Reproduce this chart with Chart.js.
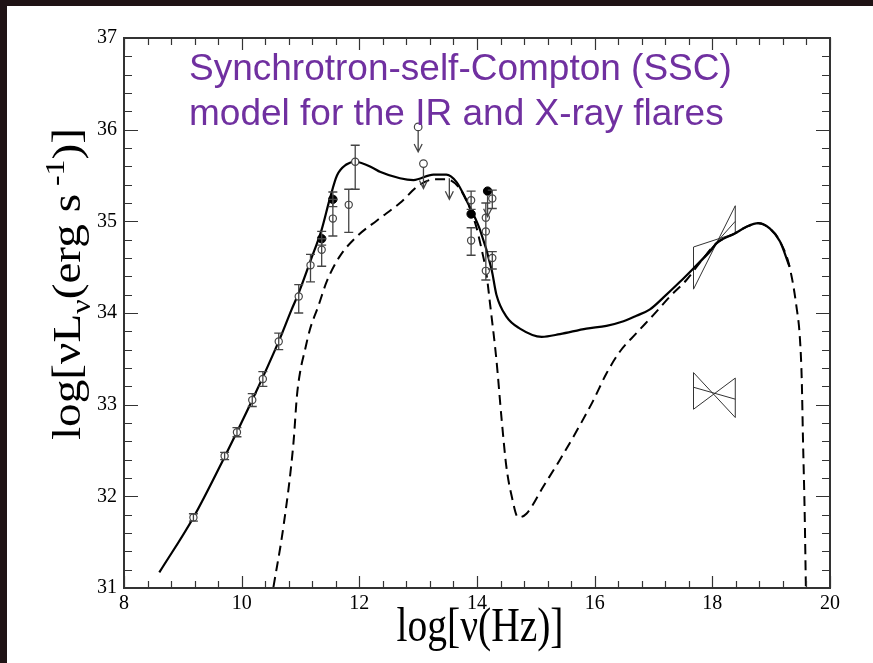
<!DOCTYPE html>
<html>
<head>
<meta charset="utf-8">
<script src="https://cdn.jsdelivr.net/npm/chart.js@4.4.0/dist/chart.umd.min.js"></script>
<style>
  html, body { margin: 0; padding: 0; background: #fff; }
</style>
</head>
<body>
<canvas id="sed" width="873" height="663"></canvas>
<script>
// SSC model: total emission (solid) and flare component (dashed)
const totalX = [8.60, 9.18, 9.71, 10.18, 10.63, 10.85, 10.97, 11.17, 11.36, 11.50, 11.62, 11.78, 11.93,
  12.24, 12.35, 12.69, 12.92, 13.26, 13.48, 13.65, 13.82, 14.05, 14.25, 14.33, 14.50, 14.73, 15.10,
  15.41, 15.86, 16.20, 16.49, 16.71, 16.94, 17.17, 17.45, 17.73, 17.96, 18.07, 18.39, 18.58, 18.78,
  18.98, 19.15, 19.31];
const totalY = [31.17, 31.77, 32.43, 33.05, 33.69, 34.04, 34.22, 34.57, 34.91, 35.25, 35.50, 35.62, 35.65,
  35.58, 35.54, 35.47, 35.45, 35.51, 35.51, 35.43, 35.23, 34.91, 34.47, 34.20, 33.96, 33.83, 33.74,
  33.77, 33.83, 33.86, 33.91, 33.97, 34.04, 34.17, 34.34, 34.52, 34.67, 34.76, 34.87, 34.94, 34.98,
  34.92, 34.78, 34.51];

const flareX = [10.54, 10.71, 10.88, 10.94, 11.00, 11.07, 11.16, 11.30, 11.45, 11.67, 11.95, 12.30, 12.69, 13.03,
  13.29, 13.48, 13.68, 13.82, 13.97, 14.08, 14.16, 14.22, 14.33, 14.42, 14.50, 14.59, 14.70, 14.84,
  15.13, 15.41, 15.70, 15.98, 16.20, 16.43, 16.71, 17.00, 17.28, 17.56, 17.85, 18.07, 18.39, 18.58,
  18.78, 18.98, 19.15, 19.31, 19.43, 19.49, 19.52, 19.54, 19.57, 19.59];
const flareY = [31.01, 31.67, 32.58, 33.10, 33.38, 33.58, 33.82, 34.07, 34.35, 34.62, 34.83, 35.01, 35.20, 35.40,
  35.46, 35.46, 35.38, 35.23, 34.98, 34.69, 34.43, 34.11, 33.49, 32.83, 32.32, 32.00, 31.77, 31.81,
  32.11, 32.40, 32.72, 33.05, 33.34, 33.58, 33.78, 33.98, 34.18, 34.36, 34.60, 34.76, 34.87, 34.94,
  34.98, 34.92, 34.78, 34.51, 34.07, 33.71, 33.27, 32.65, 31.80, 31.00];

// measurements (open circles) with error bars
const obsX  = [9.18, 9.71, 9.92, 10.18, 10.36, 10.63, 10.97, 11.17, 11.36, 11.55, 11.82, 11.93,
  13.90, 13.90, 14.15, 14.15, 14.15, 14.26, 14.26];
const obsY  = [31.77, 32.44, 32.70, 33.05, 33.28, 33.69, 34.18, 34.52, 34.69, 35.03, 35.18, 35.65,
  35.23, 34.79, 35.04, 34.89, 34.46, 35.25, 34.60];
const obsLo = [31.73, 32.40, 32.65, 32.98, 33.20, 33.60, 34.00, 34.34, 34.51, 34.84, 34.88, 35.35,
  35.13, 34.63, 35.04, 34.36, 34.46, 35.14, 34.48];
const obsHi = [31.81, 32.48, 32.75, 33.12, 33.36, 33.78, 34.31, 34.64, 34.89, 35.32, 35.35, 35.83,
  35.33, 34.93, 35.04, 35.20, 34.46, 35.34, 34.67];

// flare detections (filled circles)
const detX  = [11.36, 11.55, 13.90, 14.18];
const detY  = [34.81, 35.24, 35.08, 35.33];
const detLo = [34.74, 35.16, 35.08, 35.33];

// upper limits (arrows), the first two with an open circle
const ulX = [13.00, 13.09, 13.53, 14.18];
const ulY = [36.03, 35.63, 35.47, 35.28];
const ulCircle = [true, true, false, false];

// X-ray bow ties: outline (left top, right low, right top, left low) and best fit
const bowX = [17.68, 18.39, 18.39, 17.68, 17.68];
const bowHighY = [34.72, 34.87, 35.17, 34.26, 34.72];
const bowHighFit = [34.49, 35.00];
const bowLowY = [33.35, 32.86, 33.29, 32.95, 33.35];
const bowLowFit = [33.19, 33.06];

// axes
const xMin = 8, xMax = 20, xStep = 2, xMinor = 0.4;
const yMin = 31, yMax = 37, yStep = 1, yMinor = 0.2;

const pts = (xs, ys) => xs.map((x, i) => ({ x: x, y: ys[i] }));

const serif = '"Liberation Serif", "Times New Roman", serif';
const axisColor = '#333';

const backdrop = {
  id: 'backdrop',
  beforeDraw(chart) {
    const ctx = chart.ctx;
    ctx.save();
    ctx.fillStyle = '#fff';
    ctx.fillRect(0, 0, chart.width, chart.height);
    ctx.fillStyle = '#1f1315';
    ctx.fillRect(0, 0, chart.width, 6);
    ctx.fillRect(0, 0, 7, chart.height);
    ctx.restore();
  }
};

// error bars, caps and upper-limit arrows
const errorBars = {
  id: 'errorBars',
  afterDatasetsDraw(chart) {
    const ctx = chart.ctx, xs = chart.scales.x, ys = chart.scales.y;
    ctx.save();
    ctx.strokeStyle = '#444';
    ctx.lineWidth = 1.3;
    const bar = (x, lo, hi) => {
      const px = xs.getPixelForValue(x);
      const p1 = ys.getPixelForValue(lo), p2 = ys.getPixelForValue(hi);
      if (Math.abs(p1 - p2) < 1) return;
      ctx.beginPath();
      ctx.moveTo(px, p1); ctx.lineTo(px, p2);
      ctx.moveTo(px - 4.5, p1); ctx.lineTo(px + 4.5, p1);
      ctx.moveTo(px - 4.5, p2); ctx.lineTo(px + 4.5, p2);
      ctx.stroke();
    };
    obsX.forEach((x, i) => bar(x, obsLo[i], obsHi[i]));
    detX.forEach((x, i) => bar(x, detLo[i], detY[i]));

    ulX.forEach((x, i) => {
      const px = xs.getPixelForValue(x);
      const py = ys.getPixelForValue(ulY[i]) + (ulCircle[i] ? 4 : 0);
      const tip = py + 21;
      ctx.beginPath();
      ctx.moveTo(px, py); ctx.lineTo(px, tip);
      ctx.moveTo(px - 4, tip - 8); ctx.lineTo(px, tip); ctx.lineTo(px + 4, tip - 8);
      ctx.stroke();
    });
    ctx.restore();
  }
};

// frame, inward ticks on all four sides, and text
const frame = {
  id: 'frame',
  afterDraw(chart) {
    const ctx = chart.ctx, a = chart.chartArea, xs = chart.scales.x, ys = chart.scales.y;
    ctx.save();
    ctx.strokeStyle = axisColor;
    ctx.lineWidth = 1.2;
    ctx.beginPath();
    for (let v = xMin; v <= xMax + 1e-9; v += xMinor) {
      const major = Math.abs(v / xStep - Math.round(v / xStep)) < 1e-6;
      const len = major ? 12 : 7;
      const px = Math.round(xs.getPixelForValue(v)) + 0.5;
      ctx.moveTo(px, a.bottom); ctx.lineTo(px, a.bottom - len);
      ctx.moveTo(px, a.top); ctx.lineTo(px, a.top + len);
    }
    for (let v = yMin; v <= yMax + 1e-9; v += yMinor) {
      const major = Math.abs(v / yStep - Math.round(v / yStep)) < 1e-6;
      const len = major ? 14 : 8;
      const py = Math.round(ys.getPixelForValue(v)) + 0.5;
      ctx.moveTo(a.left, py); ctx.lineTo(a.left + len, py);
      ctx.moveTo(a.right, py); ctx.lineTo(a.right - len, py);
    }
    ctx.stroke();
    ctx.lineWidth = 2;
    ctx.strokeRect(a.left, a.top, a.right - a.left, a.bottom - a.top);

    // headline
    ctx.fillStyle = '#7030a0';
    ctx.font = '37px "Liberation Sans", Arial, sans-serif';
    ctx.textAlign = 'left';
    ctx.textBaseline = 'alphabetic';
    ctx.fillText('Synchrotron-self-Compton (SSC)', 189, 80);
    ctx.fillText('model for the IR and X-ray flares', 189, 125);

    // x title
    ctx.fillStyle = '#000';
    ctx.font = '48px ' + serif;
    const xt = 'log[\u03bd(Hz)]';
    const xw = ctx.measureText(xt).width;
    ctx.save();
    ctx.translate(480, 641);
    ctx.scale(167 / xw, 1);
    ctx.textAlign = 'center';
    ctx.fillText(xt, 0, 0);
    ctx.restore();

    // y title, rotated, with sub- and superscript
    const big = '40px ' + serif, small = '27px ' + serif;
    const parts = [
      { t: 'log[\u03bdL', f: big, dy: 0 },
      { t: '\u03bd', f: small, dy: 10 },
      { t: '(erg s', f: big, dy: 0 },
      { t: ' -1', f: small, dy: -16 },
      { t: ')]', f: big, dy: 0 }
    ];
    let total = 0;
    parts.forEach(p => { ctx.font = p.f; p.w = ctx.measureText(p.t).width; total += p.w; });
    ctx.save();
    ctx.translate(80, 440);
    ctx.rotate(-Math.PI / 2);
    ctx.scale(312 / total, 1);
    ctx.textAlign = 'left';
    let cx = 0;
    parts.forEach(p => { ctx.font = p.f; ctx.fillText(p.t, cx, p.dy); cx += p.w; });
    ctx.restore();
    ctx.restore();
  }
};

const outline = { pointRadius: 0, showLine: true, fill: false, borderWidth: 1, borderColor: '#333', order: 4 };
const curve = { pointRadius: 0, showLine: true, fill: false, borderColor: '#000', cubicInterpolationMode: 'monotone' };

new Chart(document.getElementById('sed'), {
  type: 'scatter',
  data: {
    datasets: [
      { label: 'detections', data: pts(detX, detY), pointRadius: 4.2, pointBackgroundColor: '#000',
        pointBorderColor: '#000', order: 0 },
      { label: 'measurements', data: pts(obsX, obsY), pointRadius: 3.6, pointBackgroundColor: '#fff',
        pointBorderColor: '#444', pointBorderWidth: 1.2, order: 1 },
      { label: 'upper limits', data: pts(ulX.filter((x, i) => ulCircle[i]), ulY.filter((y, i) => ulCircle[i])),
        pointRadius: 3.8, pointBackgroundColor: '#fff', pointBorderColor: '#444', pointBorderWidth: 1.2, order: 1 },
      Object.assign({ label: 'total', data: pts(totalX, totalY), borderWidth: 2.2, order: 2 }, curve),
      Object.assign({ label: 'flare', data: pts(flareX, flareY), borderWidth: 2, borderDash: [10, 6], order: 3 }, curve),
      Object.assign({ label: 'bow tie high', data: pts(bowX, bowHighY) }, outline),
      Object.assign({ label: 'bow tie high fit', data: pts(bowX.slice(0, 2), bowHighFit) }, outline),
      Object.assign({ label: 'bow tie low', data: pts(bowX, bowLowY) }, outline),
      Object.assign({ label: 'bow tie low fit', data: pts(bowX.slice(0, 2), bowLowFit) }, outline)
    ]
  },
  options: {
    responsive: false,
    animation: false,
    events: [],
    layout: { padding: { left: 0, top: 38, right: 43, bottom: 0 } },
    plugins: { legend: { display: false }, tooltip: { enabled: false } },
    scales: {
      x: {
        type: 'linear', min: xMin, max: xMax,
        grid: { display: false, drawTicks: false },
        border: { display: false },
        ticks: { stepSize: xStep, padding: 4, color: '#000', font: { family: serif, size: 20 } },
        afterFit(scale) { scale.height = 75; }
      },
      y: {
        type: 'linear', min: yMin, max: yMax,
        grid: { display: false, drawTicks: false },
        border: { display: false },
        ticks: { stepSize: yStep, padding: 7, color: '#000', font: { family: serif, size: 20 } },
        afterFit(scale) { scale.width = 124; }
      }
    }
  },
  plugins: [backdrop, errorBars, frame]
});
</script>
</body>
</html>
